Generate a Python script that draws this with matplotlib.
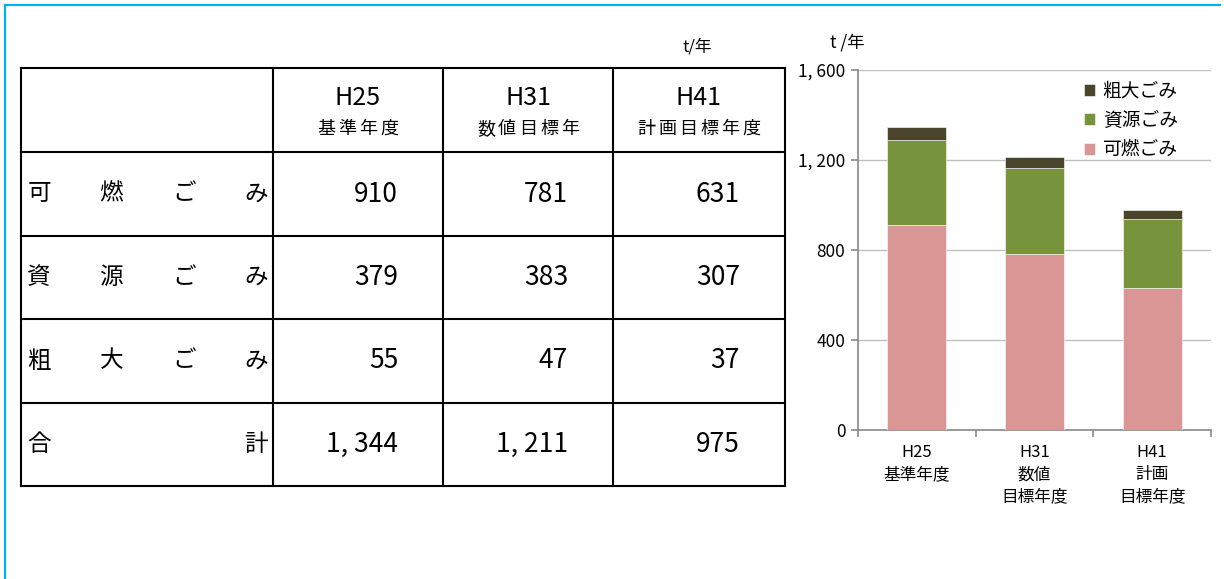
import matplotlib
matplotlib.use("Agg")
import numpy as np
import matplotlib.pyplot as plt
from matplotlib.lines import Line2D

plt.rcParams['font.family'] = ['Noto Sans CJK JP', 'DejaVu Sans']

# ごみ排出量 (t/年)
years = ['H25', 'H31', 'H41']
year_notes = ['基準年度', '数値目標年', '計画目標年度']
axis_labels = ['H25\n基準年度', 'H31\n数値\n目標年度', 'H41\n計画\n目標年度']
kanen = [910, 781, 631]     # 可燃ごみ
shigen = [379, 383, 307]    # 資源ごみ
sodai = [55, 47, 37]        # 粗大ごみ
row_names = ['可燃ごみ', '資源ごみ', '粗大ごみ', '合計']
colors = {'可燃ごみ': '#D99694', '資源ごみ': '#77933C', '粗大ごみ': '#4A452A'}

totals = [a + b + c for a, b, c in zip(kanen, shigen, sodai)]
rows = [kanen, shigen, sodai, totals]

W, H = 1224, 579
fig = plt.figure(figsize=(W / 100, H / 100), dpi=100)

# 全体を覆うピクセル座標の軸（表と枠線用）
base = fig.add_axes([0, 0, 1, 1])
base.set_xlim(0, W)
base.set_ylim(H, 0)
base.axis('off')


def spaced(ax, cx, cy, s, pitch, size):
    # 一文字ずつ等間隔に並べる（字間を空けた見出し）
    xs = cx + (np.arange(len(s)) - (len(s) - 1) / 2) * pitch
    for ch, xx in zip(s, xs):
        ax.text(xx, cy, ch, ha='center', va='center', fontsize=size)


# 外枠（上と左）
base.add_line(Line2D([5, 5], [H, 5], color='#00B0F0', lw=1.6))
base.add_line(Line2D([5, 1220], [5, 5], color='#00B0F0', lw=1.6))

# ---- 表 ----
col_x = [21, 273, 443, 613, 785]
row_y = [68, 152, 236, 319, 403, 486]
for x in col_x:
    base.add_line(Line2D([x, x], [row_y[0], row_y[-1]], color='black', lw=1.5))
for y in row_y:
    base.add_line(Line2D([col_x[0], col_x[-1]], [y, y], color='black', lw=1.5))

base.text(697, 47, 't/年', ha='center', va='center', fontsize=12)

for j, (yr, note) in enumerate(zip(years, year_notes)):
    cx = (col_x[j + 1] + col_x[j + 2]) / 2
    base.text(cx, row_y[0] + 30, yr, ha='center', va='center', fontsize=18)
    spaced(base, cx, row_y[0] + 61, note, 21, 13)

for i, (name, vals) in enumerate(zip(row_names, rows)):
    cy = (row_y[i + 1] + row_y[i + 2]) / 2
    # 項目名はセル幅いっぱいに均等割り付け
    xs = np.linspace(col_x[0] + 18, col_x[1] - 17, len(name))
    for ch, x in zip(name, xs):
        base.text(x, cy, ch, ha='center', va='center', fontsize=17)
    for j, v in enumerate(vals):
        base.text(col_x[j + 2] - 45, cy, f'{v:,}'.replace(',', ', '),
                  ha='right', va='center', fontsize=19)

# ---- 積み上げ棒グラフ ----
ax_l, ax_r, ax_t, ax_b = 858, 1211, 69.5, 430
ax = fig.add_axes([ax_l / W, 1 - ax_b / H, (ax_r - ax_l) / W, (ax_b - ax_t) / H])

x = np.arange(len(years))
bottom = np.zeros(len(years))
handles = {}
for name, vals in [('可燃ごみ', kanen), ('資源ごみ', shigen), ('粗大ごみ', sodai)]:
    handles[name] = ax.bar(x, vals, width=0.5, bottom=bottom, color=colors[name],
                           edgecolor='white', linewidth=0.4, label=name, zorder=3)
    bottom += np.array(vals)

ax.set_xlim(-0.5, len(years) - 0.5)
ax.set_ylim(0, 1600)
ax.set_yticks([0, 400, 800, 1200, 1600])
ax.set_yticklabels([f'{v:,}'.replace(',', ', ') for v in [0, 400, 800, 1200, 1600]],
                   fontsize=12.5)
ax.yaxis.grid(True, color='#BFBFBF', lw=1, zorder=0)
ax.set_axisbelow(True)

ax.set_xticks(x)
ax.set_xticklabels(axis_labels, fontsize=12, linespacing=1.4)
ax.tick_params(axis='x', length=0, pad=10)
ax.set_xticks(np.arange(len(years) + 1) - 0.5, minor=True)
ax.tick_params(axis='x', which='minor', length=5, color='#898989', width=1.2)
ax.tick_params(axis='y', length=5, color='#898989', width=1.2, pad=4)

for s in ['top', 'right']:
    ax.spines[s].set_visible(False)
for s in ['left', 'bottom']:
    ax.spines[s].set_color('#898989')
    ax.spines[s].set_linewidth(1.2)

ax.text(-0.03, 1.076, 't /年', transform=ax.transAxes, ha='center', va='center',
        fontsize=12.5)

order = ['粗大ごみ', '資源ごみ', '可燃ごみ']
ax.legend([handles[k] for k in order], order, loc='upper left',
          bbox_to_anchor=(0.64, 0.97), frameon=False, fontsize=13.5,
          handlelength=0.6, handleheight=0.6, handletextpad=0.4,
          labelspacing=0.45, borderpad=0, borderaxespad=0)

fig.savefig('out.png', dpi=100, facecolor='white')
